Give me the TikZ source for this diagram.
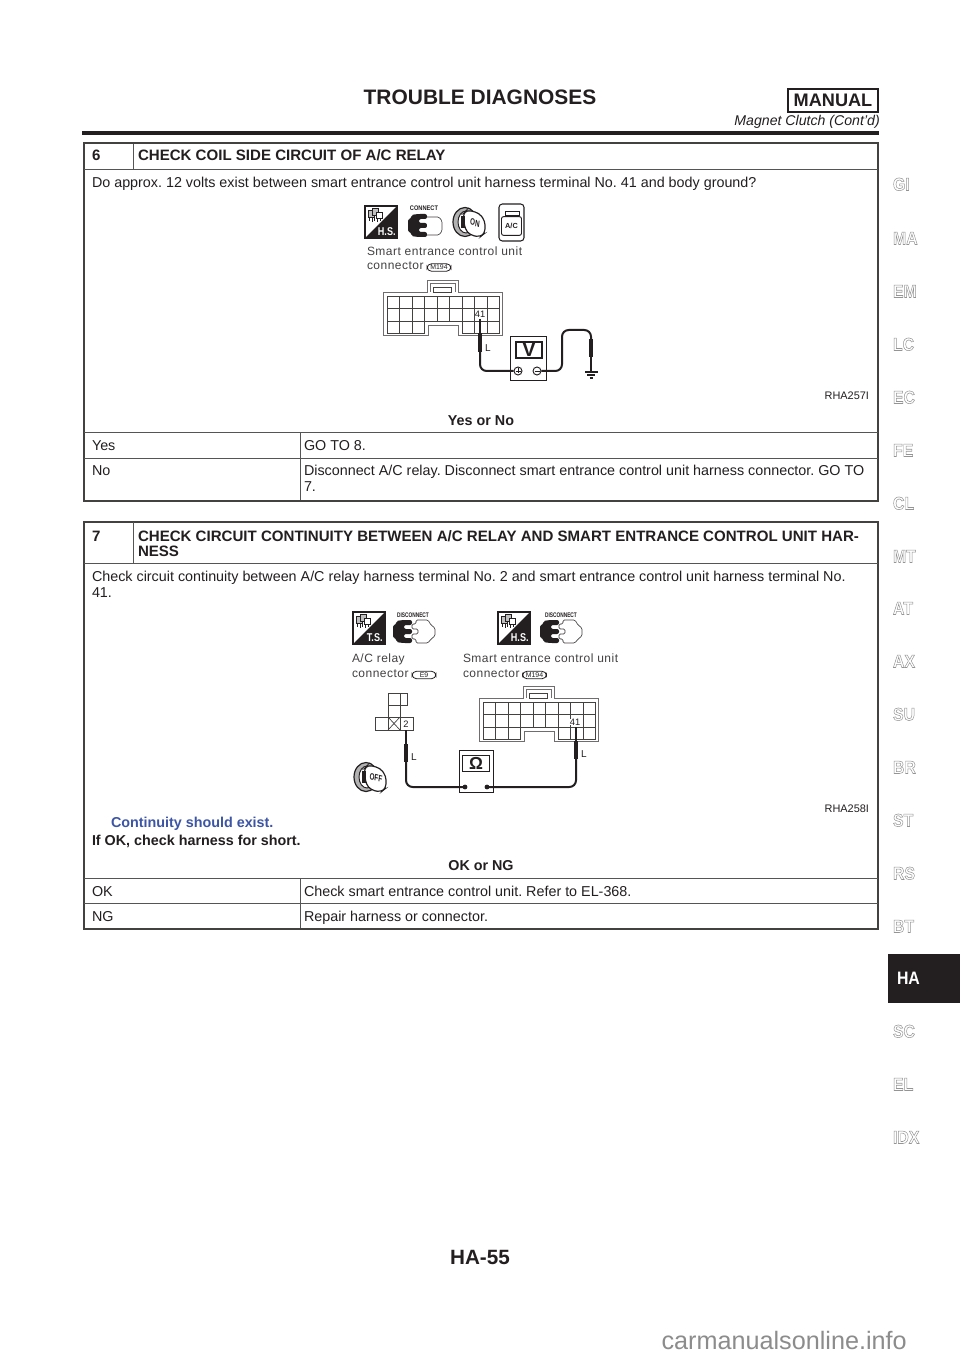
\documentclass[tikz,border=0pt]{standalone}
\usepackage{fontspec}
\setmainfont{Liberation Sans}
\newfontfamily\diafont[LetterSpace=4]{Liberation Sans}
\usetikzlibrary{calc}
\definecolor{ink}{HTML}{231F20}
\definecolor{tabgrey}{HTML}{9A9A9A}
\definecolor{blueink}{HTML}{3C55A5}
\definecolor{rulegrey}{HTML}{555555}
\newcommand{\sz}[1]{\fontsize{#1}{#1}\selectfont}
\newcommand{\outl}[1]{\special{pdf:code q 1 Tr 0.4 w 0.58 0.58 0.58 RG}#1\special{pdf:code 0 Tr Q}}
\frenchspacing
\tikzset{
  x=0.75pt,y=-0.75pt,
  txt/.style={anchor=base west,inner sep=0,outer sep=0,text=ink,font=\sz{10.75}},
  btxt/.style={txt,font=\sz{10.75}\bfseries},
  htxt/.style={txt,font=\sz{11.3}\bfseries},
  ctxt/.style={anchor=base,inner sep=0,outer sep=0,text=ink,font=\sz{10.75}\bfseries},
  rha/.style={anchor=base east,inner sep=0,outer sep=0,text=ink,font=\sz{8.2}},
  dia/.style={anchor=base west,inner sep=0,outer sep=0,text=ink!85,font=\diafont\sz{9}},
  tablab/.style={anchor=base west,inner sep=0,outer sep=0,xscale=.88,text=tabgrey,font=\sz{13.5}\bfseries},
  outer/.style={line width=1.5pt,draw=ink!85},
  inner/.style={line width=.75pt,draw=rulegrey},
  wire/.style={line width=1.5pt,draw=ink,rounded corners=5pt},
  wthin/.style={line width=1.1pt,draw=ink},
  probe/.style={line width=3.3pt,draw=ink,line cap=butt},
  conn/.style={line width=.5pt,draw=ink!85},
  connout/.style={line width=.6pt,draw=ink!65},
  tiny/.style={anchor=center,inner sep=0,outer sep=0,text=ink,font=\sz{5}\bfseries},
  oval/.style={draw=ink,line width=.6pt,rounded corners=3.4pt,minimum width=18pt,inner xsep=0pt,inner ysep=1pt,font=\sz{5.2},text=ink},
}
% service icon: #1 x, #2 y, #3 size, #4 text
\newcommand{\svc}[4]{%
 \begin{scope}[shift={(#1,#2)}]
  \draw[line width=.8pt,draw=ink,fill=white] (0,0) rectangle (#3,#3);
  \fill[ink] (#3,0) -- (#3,#3) -- (0,#3) -- cycle;
  \draw[line width=.5pt,draw=ink,fill=black!25] (3,4) rectangle (9,11);
  \draw[line width=.5pt,draw=ink,fill=black!25] (7,2.5) rectangle (13,9.5);
  \draw[line width=.5pt,draw=ink,fill=white] (11,6) rectangle (17,12);
  \draw[line width=.4pt,draw=ink] (4.5,11)--(4.5,15)(7,11)--(7,16)(9.5,11)--(9.5,15)(12.5,12)--(12.5,16)(15,12)--(15,15);
  \node[anchor=center,inner sep=0,text=white,font=\sz{8.5}\bfseries,xscale=.8] at (#3*0.68,#3*0.8) {#4};
 \end{scope}}
% black connector half
\newcommand{\blackhalf}[2]{%
 \begin{scope}[shift={(#1,#2)}]
  \fill[ink,rounded corners=1.5pt] (0,5) -- (3,5) -- (3,1) -- (10,0) -- (19,0) -- (19,5) -- (11,5) -- (11,9) -- (19,9) -- (19,14) -- (11,14) -- (11,18) -- (19,18) -- (19,23) -- (10,23) -- (3,22) -- (3,18) -- (0,18) -- cycle;
 \end{scope}}
% lock with key
\newcommand{\keylock}[3]{%
 \begin{scope}[shift={(#1,#2)}]
  \draw[line width=.9pt,draw=ink,fill=black!30] (13,15) ellipse (12 and 14.5);
  \draw[line width=.7pt,draw=ink,fill=white] (14,15) ellipse (8 and 11);
  \draw[line width=.9pt,draw=ink,fill=white,rounded corners=3pt] (11,7) -- (15,3) -- (27,6) -- (33,14) -- (33,26) -- (28,30) -- (18,28) -- (13,22) -- cycle;
  \fill[ink] (9,9) rectangle (13,21);
  \node[anchor=center,inner sep=0,text=ink,font=\sz{7}\bfseries,xscale=.68,rotate=-10] at (23,16) {#3};
 \end{scope}}
% multi-pin connector
\newcommand{\bigconn}[2]{%
 \begin{scope}[shift={(#1,#2)}]
  \draw[connout,fill=white] (0,0) -- (44,0) -- (44,-12) -- (75,-12) -- (75,0) -- (119,0) -- (119,43) -- (75,43) -- (75,33) -- (45,33) -- (45,43) -- (0,43) -- cycle;
  \draw[connout] (47,0) -- (47,-8.5) -- (72,-8.5) -- (72,0);
  \draw[conn] (50,-5) rectangle (68,0);
  \draw[conn] (4,4.5) -- (116,4.5) -- (116,41) -- (79,41) -- (79,29) -- (41.7,29) -- (41.7,41) -- (4,41) -- cycle;
  \draw[conn] (4,16) -- (116,16) (4,29) -- (41.7,29) (79,29) -- (116,29);
  \foreach \g in {16.5,29,41.7,54,66.7,79,91.5,104}{\draw[conn] (\g,4.5) -- (\g,29);}
  \foreach \g in {16.5,29,91.5,104}{\draw[conn] (\g,29) -- (\g,41);}
 \end{scope}}
\begin{document}
\begin{tikzpicture}
\useasboundingbox (0,0) rectangle (960,1358);
\fill[white] (0,0) rectangle (960,1358);
% ---------- page head
\node[anchor=base,inner sep=0,text=ink,font=\sz{15.7}\bfseries] (title) at (480,105) {TROUBLE DIAGNOSES};
\node[draw=ink,line width=1.1pt,minimum width=67.5pt,minimum height=17pt,inner sep=0,text=ink,font=\sz{13.6}\bfseries] (manual) at (833,100.5) {MANUAL};
\node[anchor=base east,inner sep=0,text=ink,font=\sz{10.6}\itshape] (sub) at (880,125.5) {Magnet Clutch (Cont’d)};
\draw[line width=2.3pt,ink] (82,133) -- (879,133);
% ---------- table 6
\draw[outer] (83.5,143.5) rectangle (878,501);
\draw[inner] (84,169.5) -- (878,169.5);
\draw[inner] (133,144) -- (133,169.5);
\draw[inner] (84,432.5) -- (878,432.5);
\draw[inner] (84,458) -- (878,458);
\draw[inner] (300,432.5) -- (300,500);
\node[htxt] (n6) at (92,161) {6};
\node[htxt] (t6) at (138,161) {CHECK COIL SIDE CIRCUIT OF A/C RELAY};
\node[txt] (q6) at (92,187.5) {Do approx. 12 volts exist between smart entrance control unit harness terminal No. 41 and body ground?};
\node[rha] (r6) at (869,399) {RHA257I};
\node[ctxt] (yn) at (481,425) {Yes or No};
\node[txt] (y1) at (92,450) {Yes};
\node[txt] (y2) at (304,450) {GO TO 8.};
\node[txt] (n1) at (92,475) {No};
\node[txt] (n2) at (304,475) {Disconnect A/C relay. Disconnect smart entrance control unit harness connector. GO TO};
\node[txt] (n3) at (304,491) {7.};
% ---------- table 7
\draw[outer] (83.5,522) rectangle (878,929);
\draw[inner] (84,563.5) -- (878,563.5);
\draw[inner] (133,522) -- (133,563.5);
\draw[inner] (84,878) -- (878,878);
\draw[inner] (84,903) -- (878,903);
\draw[inner] (300,878) -- (300,928);
\node[htxt] (n7) at (92,541) {7};
\node[htxt] (t7) at (138,541) {CHECK CIRCUIT CONTINUITY BETWEEN A/C RELAY AND SMART ENTRANCE CONTROL UNIT HAR-};
\node[htxt] (t7b) at (138,556) {NESS};
\node[txt] (q7) at (92,581) {Check circuit continuity between A/C relay harness terminal No. 2 and smart entrance control unit harness terminal No.};
\node[txt] (q7b) at (92,597) {41.};
\node[rha] (r7) at (869,812) {RHA258I};
\node[btxt,text=blueink] (cont) at (111,827) {Continuity should exist.};
\node[btxt] (ifok) at (92,845) {If OK, check harness for short.};
\node[ctxt] (okng) at (481,870.5) {OK or NG};
\node[txt] (ok1) at (92,896.5) {OK};
\node[txt] (ok2) at (304,896.5) {Check smart entrance control unit. Refer to EL-368.};
\node[txt] (ng1) at (92,921) {NG};
\node[txt] (ng2) at (304,921) {Repair harness or connector.};
% ---------- diagram 1
\svc{365}{206}{32}{H.S.}
\node[tiny,xscale=.85] (cn) at (424,208) {CONNECT};
\blackhalf{408}{214}
\draw[conn,fill=white,rounded corners=1pt] (427,217) -- (439,217) -- (442,221) -- (442,231) -- (439,235) -- (427,235);
\keylock{452}{207}{ON}
\draw[line width=.8pt,draw=ink,fill=white,rounded corners=2.5pt] (499,204) rectangle (524,241);
\draw[line width=.45pt,draw=ink] (505,211) rectangle (519,215);
\node[draw=ink,line width=.7pt,rounded corners=1.5pt,minimum width=15pt,minimum height=14pt,inner sep=0,font=\sz{5.5}\bfseries,text=ink] (ac) at (511.5,226) {A/C};
\node[dia] (s1) at (367,256) {Smart entrance control unit};
\node[dia] (s2) at (367,270) {connector};
\node[oval] (m1) at (439,267.5) {M194};
\bigconn{383}{292}
\node[anchor=center,inner sep=.2pt,fill=white,text=ink,font=\sz{7}] (l41a) at (480,314) {41};
\coordinate (p1t) at (480,319);
\coordinate (p1a) at (480,333);
\coordinate (p1b) at (480,352);
\node[anchor=center,inner sep=0,text=ink,font=\sz{7.5}] (la) at (488,348) {L};
\node[draw=ink,line width=.7pt,fill=white,minimum width=27pt,minimum height=32.3pt,inner sep=0] (vm) at (528,358.5) {};
\node[draw=ink,line width=.9pt,minimum width=19.5pt,minimum height=12pt,inner sep=0,font=\sz{15}\bfseries,text=ink] (vs) at (529,350) {V};
\node[circle,draw=ink,line width=.7pt,minimum size=6pt,inner sep=0,fill=white] (vp) at (518,371) {};
\node[circle,draw=ink,line width=.7pt,minimum size=6pt,inner sep=0,fill=white] (vn) at (537,371) {};
\draw[line width=.5pt,ink] (515.5,371) -- (520.5,371) (518,368.5) -- (518,373.5) (534.5,371) -- (539.5,371);
\coordinate (gt) at (591,339);
\coordinate (gb) at (591,357);
\coordinate (ge) at (591,372);
\draw[wthin] (p1t) -- (p1a);
\draw[probe] (p1a) -- (p1b);
\draw[wire] (p1b) |- (vp.west);
\draw[wire] (vn.east) -- (562,371) -- (562,330) -- (591,330) -- (gt);
\draw[probe] (gt) -- (gb);
\draw[wthin] (gb) -- (ge);
\draw[line width=.8pt,ink] (585,372) -- (598,372) (587,375) -- (595,375) (589.5,378) -- (592.5,378);
% ---------- diagram 2
\svc{353}{612}{32}{T.S.}
\node[tiny,xscale=.72] (dc1) at (413,615) {DISCONNECT};
\blackhalf{393}{620}
\draw[conn,fill=white,rounded corners=1pt] (412,624) -- (416,624) -- (416,620) -- (428,620) -- (431,625) -- (435,628) -- (435,636) -- (431,639) -- (428,643) -- (416,643) -- (416,639) -- (412,639) -- (412,634) -- (418,634) -- (418,629) -- (412,629) -- cycle;
\svc{498}{612}{32}{H.S.}
\node[tiny,xscale=.72] (dc2) at (561,615) {DISCONNECT};
\blackhalf{540}{620}
\draw[conn,fill=white,rounded corners=1pt] (559,624) -- (563,624) -- (563,620) -- (575,620) -- (578,625) -- (582,628) -- (582,636) -- (578,639) -- (575,643) -- (563,643) -- (563,639) -- (559,639) -- (559,634) -- (565,634) -- (565,629) -- (559,629) -- cycle;
\node[dia] (a1) at (352,662) {A/C relay};
\node[dia] (a2) at (352,677) {connector};
\node[oval] (e9) at (424,675) {E9};
\node[dia] (b1) at (463,662) {Smart entrance control unit};
\node[dia] (b2) at (463,677) {connector};
\node[oval] (m2) at (534.5,675) {M194};
% relay connector
\draw[conn] (388,693) rectangle (407,705);
\draw[conn] (400,693) -- (400,705);
\draw[conn] (388,705) rectangle (400,717);
\draw[conn] (375,717) rectangle (413,730);
\draw[conn] (388,717) -- (388,730) (400,717) -- (400,730);
\draw[conn] (388,717) -- (400,730) (400,717) -- (388,730);
\node[anchor=center,inner sep=0,text=ink,font=\sz{7}] (l2) at (406,724) {2};
\bigconn{479}{698}
\node[anchor=center,inner sep=.2pt,fill=white,text=ink,font=\sz{7}] (l41b) at (575,722) {41};
\coordinate (q1t) at (406,730);
\coordinate (q1a) at (406,744);
\coordinate (q1b) at (406,762);
\node[anchor=center,inner sep=0,text=ink,font=\sz{7.5}] (lb) at (414,757) {L};
\coordinate (q2t) at (576,727);
\coordinate (q2a) at (576,741);
\coordinate (q2b) at (576,759);
\node[anchor=center,inner sep=0,text=ink,font=\sz{7.5}] (lc) at (584,754) {L};
\node[draw=ink,line width=.7pt,fill=white,minimum width=25.5pt,minimum height=32pt,inner sep=0] (om) at (476,771.5) {};
\node[draw=ink,line width=.9pt,minimum width=20pt,minimum height=12pt,inner sep=0,font=\sz{13}\bfseries,text=ink] (os) at (476,763.5) {Ω};
\node[circle,fill=ink,minimum size=3.6pt,inner sep=0] (od1) at (465,787) {};
\node[circle,fill=ink,minimum size=3.6pt,inner sep=0] (od2) at (487,787) {};
\draw[wthin] (q1t) -- (q1a);
\draw[probe] (q1a) -- (q1b);
\draw[wire] (q1b) |- (od1.center);
\draw[wthin] (q2t) -- (q2a);
\draw[probe] (q2a) -- (q2b);
\draw[wire] (q2b) |- (od2.center);
\keylock{353}{762}{OFF}
% ---------- side tabs
\foreach \t/\yy in {GI/184,MA/238,EM/291,LC/344,EC/397,FE/450,CL/503,MT/556,AT/608,AX/661,SU/714,BR/767,ST/820,RS/873,BT/926,SC/1031,EL/1084,IDX/1137}{
  \node[tablab] (tab\t) at (893,\yy+6.5) {\outl{\t}};
}
\fill[ink] (888,954) rectangle (960,1003);
\node[tablab,text=white] (tabHA) at (897,984.5) {HA};
% ---------- foot
\node[anchor=base,inner sep=0,text=ink,font=\sz{15.5}\bfseries] (foot) at (480,1264) {HA-55};
\node[anchor=base east,inner sep=0,text=black!45,font=\sz{18.9}] (mark) at (907,1349) {carmanualsonline.info};
\end{tikzpicture}
\end{document}
